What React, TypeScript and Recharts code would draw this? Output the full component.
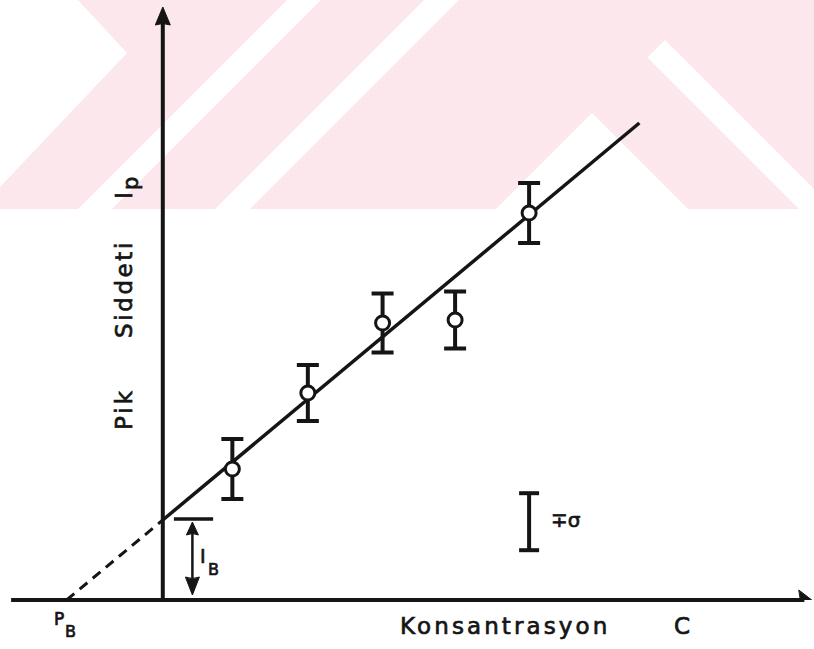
import React from 'react';
import { ComposedChart, XAxis, YAxis, Line, Scatter, ErrorBar, ReferenceLine } from 'recharts';

// ---- data ----
const concentrations = [0.94, 1.96, 2.97, 3.95, 4.95];
const peakIntensities = [13.1, 20.7, 27.7, 28.0, 38.7];
const deviations = [3.0, 2.8, 2.95, 2.85, 3.0];

const blankConcentration = -1.3; // P_B (x-intercept)
const blankIntensity = 8.0; // I_B (intercept on the intensity axis)
const fitEnd = { c: 6.44, i: 47.7 };
const sigmaLegend = { c: 4.95, i: 7.83, e: 2.85 };
const ibArrowX = 0.4;
const ibCap = [0.15, 0.68];
const axisLimits = { xMin: -2.05, xTip: 8.77, yTip: 59.3 };
const xDomain = [-2.2, 8.8];
const yDomain = [0, 60];

const points = concentrations.map((c, k) => ({ x: c, y: peakIntensities[k], e: deviations[k] }));
const legendPoint = [{ x: sigmaLegend.c, y: sigmaLegend.i, e: sigmaLegend.e }];
const dashedPart = [
  { x: blankConcentration, y: 0 },
  { x: 0, y: blankIntensity },
];
const solidPart = [
  { x: 0, y: blankIntensity },
  { x: fitEnd.c, y: fitEnd.i },
];

const INK = '#151515';
const PINK = '#fce8ec';
const FONT = '"DejaVu Sans", "Liberation Sans", sans-serif';

type Dir = 'up' | 'down' | 'right';
function arrowHead(dir: Dir, len: number, half: number) {
  return (props: any) => {
    const { cx, cy } = props;
    let d = '';
    if (dir === 'up') d = `M${cx},${cy} L${cx - half},${cy + len} Q${cx},${cy + len - 3} ${cx + half},${cy + len} Z`;
    if (dir === 'down') d = `M${cx},${cy} L${cx - half},${cy - len} Q${cx},${cy - len + 3} ${cx + half},${cy - len} Z`;
    if (dir === 'right') d = `M${cx},${cy} L${cx - len},${cy - half} Q${cx - len + 3},${cy} ${cx - len},${cy + half} Z`;
    return <path d={d} fill={INK} stroke={INK} strokeWidth={1} strokeLinejoin="round" />;
  };
}

const openCircle = (props: any) => (
  <circle cx={props.cx} cy={props.cy} r={7} fill="#fff" stroke={INK} strokeWidth={3} />
);
const noMark = () => <g />;

function Watermark() {
  return (
    <svg width={814} height={649} style={{ position: 'absolute', left: 0, top: 0 }}>
      <polygon points="78,0 287,0 78,209 0,209 0,187 127,53" fill={PINK} />
      <polygon points="321,0 424,0 215,209 112,209" fill={PINK} />
      <polygon points="459,0 814,0 814,209 250,209" fill={PINK} />
      <polygon points="665,40 814,189 814,209 799,209 647.5,57.5" fill="#fff" />
      <polygon points="592,113 688,209 496,209" fill="#fff" />
    </svg>
  );
}

export default function App() {
  return (
    <div style={{ position: 'absolute', left: 0, top: 0, width: 814, height: 649, background: '#fff' }}>
      <Watermark />
      <div style={{ position: 'absolute', left: 0, top: 0 }}>
        <ComposedChart width={814} height={649} margin={{ top: 0, right: 0, bottom: 49, left: 0 }}>
          <XAxis type="number" dataKey="x" domain={xDomain} allowDataOverflow hide />
          <YAxis type="number" dataKey="y" domain={yDomain} allowDataOverflow hide />

          {/* axes */}
          <ReferenceLine
            segment={[{ x: axisLimits.xMin, y: 0 }, { x: axisLimits.xTip - 0.1, y: 0 }]}
            stroke={INK}
            strokeWidth={4}
            ifOverflow="visible"
          />
          <ReferenceLine
            segment={[{ x: 0, y: 0 }, { x: 0, y: axisLimits.yTip - 1.2 }]}
            stroke={INK}
            strokeWidth={4}
            ifOverflow="visible"
          />

          {/* I_B marker */}
          <ReferenceLine
            segment={[{ x: ibCap[0], y: blankIntensity + 0.1 }, { x: ibCap[1], y: blankIntensity + 0.1 }]}
            stroke={INK}
            strokeWidth={3.5}
            ifOverflow="visible"
          />
          <ReferenceLine
            segment={[{ x: ibArrowX, y: 0.8 }, { x: ibArrowX, y: blankIntensity - 0.5 }]}
            stroke={INK}
            strokeWidth={2.5}
            ifOverflow="visible"
          />

          {/* fitted line */}
          <Line
            data={dashedPart}
            dataKey="y"
            type="linear"
            stroke={INK}
            strokeWidth={3}
            strokeDasharray="10 7"
            dot={false}
            activeDot={false}
            isAnimationActive={false}
          />
          <Line
            data={solidPart}
            dataKey="y"
            type="linear"
            stroke={INK}
            strokeWidth={3.5}
            dot={false}
            activeDot={false}
            isAnimationActive={false}
          />

          {/* measured points with error bars */}
          <Scatter data={points} dataKey="y" shape={openCircle} isAnimationActive={false}>
            <ErrorBar dataKey="e" direction="y" width={11} strokeWidth={4} stroke={INK} isAnimationActive={false} />
          </Scatter>

          {/* sigma legend bar */}
          <Scatter data={legendPoint} dataKey="y" shape={noMark} isAnimationActive={false}>
            <ErrorBar dataKey="e" direction="y" width={10} strokeWidth={4} stroke={INK} isAnimationActive={false} />
          </Scatter>

          {/* arrow heads */}
          <Scatter data={[{ x: 0, y: axisLimits.yTip }]} dataKey="y" shape={arrowHead('up', 18, 7.5)} isAnimationActive={false} />
          <Scatter data={[{ x: axisLimits.xTip, y: 0 }]} dataKey="y" shape={arrowHead('right', 13, 10)} isAnimationActive={false} />
          <Scatter data={[{ x: ibArrowX, y: blankIntensity - 0.2 }]} dataKey="y" shape={arrowHead('up', 13, 6)} isAnimationActive={false} />
          <Scatter data={[{ x: ibArrowX, y: 0.5 }]} dataKey="y" shape={arrowHead('down', 18, 7)} isAnimationActive={false} />

          {/* labels */}
          <g fontFamily={FONT} fill={INK} stroke={INK} strokeWidth={0.7}>
            <text x={400} y={634} fontSize={23} letterSpacing={3.1}>
              Konsantrasyon
            </text>
            <text x={674} y={634} fontSize={23}>
              C
            </text>
            <text x={54} y={625} fontSize={17}>
              P
            </text>
            <text x={65} y={637} fontSize={16}>
              B
            </text>
            <text x={200} y={563} fontSize={19}>
              I
            </text>
            <text x={208} y={575} fontSize={16}>
              B
            </text>
            <text x={551} y={527} fontSize={20}>
              {'\u2213\u03c3'}
            </text>
            <text transform="translate(132,430) rotate(-90)" fontSize={23} letterSpacing={3}>
              Pik
            </text>
            <text transform="translate(132,338) rotate(-90)" fontSize={23} letterSpacing={2.6}>
              Siddeti
            </text>
            <text transform="translate(132,199) rotate(-90)" fontSize={23}>
              I
            </text>
            <text transform="translate(138,190) rotate(-90)" fontSize={21}>
              p
            </text>
          </g>
        </ComposedChart>
      </div>
    </div>
  );
}
